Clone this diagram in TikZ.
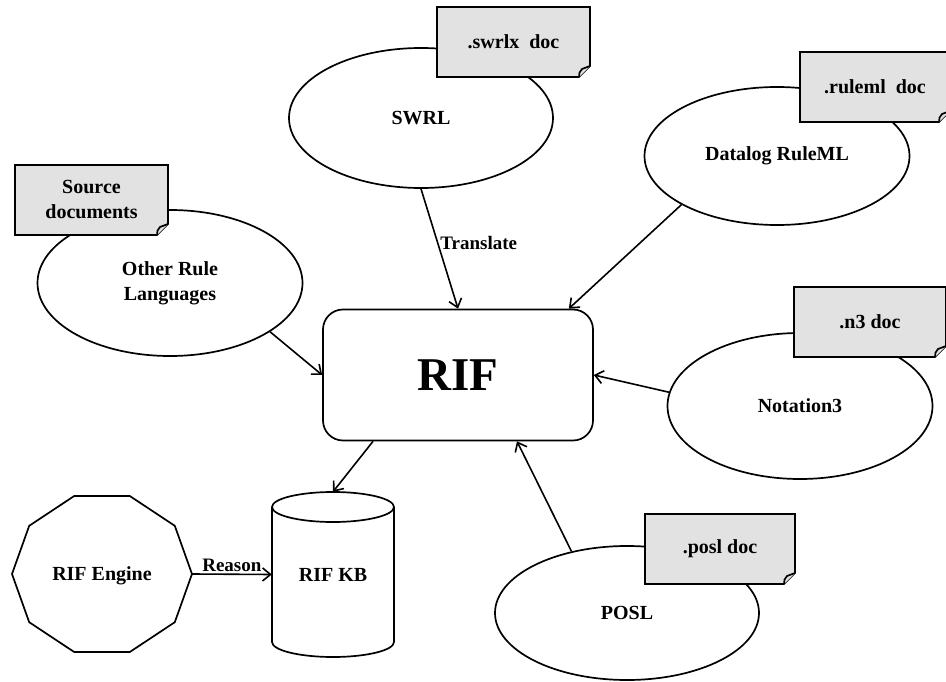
\documentclass[tikz,border=0pt]{standalone}
\usepackage{fontspec}
\setmainfont{Liberation Serif}
\usetikzlibrary{shapes.geometric,arrows.meta,calc}
\definecolor{docgray}{HTML}{E2E2E2}

% folded-corner note: name, x1, y1, x2, y2, text
\newcommand{\docnote}[6]{%
  \draw[docframe] (#2,#3) -- (#4,#3) -- (#4,#5-11) -- (#4-11,#5) -- (#2,#5) -- cycle;
  \draw[docframe] (#4-11,#5) to[bend left=25] (#4-8,#5-8) -- (#4,#5-11);
  \node[doctext] (#1) at ({(#2+#4)/2},{(#3+#5)/2}) {#6};
}

\tikzset{
  every node/.style={font=\fontsize{20}{25}\selectfont\bfseries},
  shapeline/.style={draw, line width=1.7pt, line join=round},
  lang/.style={ellipse, draw, line width=1.7pt, inner sep=0pt, align=center},
  docframe/.style={draw, line width=1.7pt, fill=docgray, line join=miter},
  doctext/.style={align=center, inner sep=0pt},
  arr/.style={line width=1.6pt, -{Straight Barb[length=8pt,width=13pt]}},
  edgelabel/.style={font=\fontsize{19}{21}\selectfont\bfseries, inner sep=2pt}
}

\begin{document}
\begin{tikzpicture}[x=1pt,y=-1pt]
\fill[white] (0,0) rectangle (946,682);
\useasboundingbox (0,0) rectangle (946,682);

% rule languages
\node[lang, minimum width=264pt, minimum height=140pt] (swrl) at (421,118) {SWRL};
\node[lang, minimum width=265pt, minimum height=138pt] (datalog) at (777,156) {Datalog RuleML};
\node[lang, minimum width=265pt, minimum height=146pt] (other) at (170,283) {Other Rule\\Languages};
\node[lang, minimum width=265pt, minimum height=146pt] (n3) at (800,406) {Notation3};
\node[lang, minimum width=264pt, minimum height=134pt] (posl) at (627,613) {POSL};

% source documents
\docnote{swrlxdoc}{437}{7}{590}{77}{.swrlx\ \ doc}
\docnote{rulemldoc}{800}{52}{950}{122}{.ruleml\ \ doc}
\docnote{sourcedoc}{15}{165}{168}{235}{Source\\documents}
\docnote{ntdoc}{794}{287}{946}{357}{.n3 doc}
\docnote{posldoc}{645}{514}{795}{584}{.posl doc}

% interchange format
\node[draw, line width=1.7pt, rounded corners=20pt, minimum width=270pt,
      minimum height=131pt, font=\fontsize{47}{47}\selectfont\bfseries] (rif) at (458,375) {RIF};

% knowledge base cylinder
\draw[shapeline] (272,507) -- (272,642) arc[start angle=180,end angle=360,x radius=61pt,y radius=15pt] -- (394,507);
\draw[shapeline] (333,507) ellipse [x radius=61pt, y radius=15pt];
\node[minimum width=122pt, minimum height=165pt, inner sep=0pt] (rifkb) at (333,574.5) {\raisebox{-8pt}{RIF KB}};

% engine decagon
\draw[shapeline] (192,574) -- (174.8,525.8) -- (129.8,496) -- (74.2,496) -- (29.2,525.8) -- (12,574)
  -- (29.2,622.2) -- (74.2,652) -- (129.8,652) -- (174.8,622.2) -- cycle;
\node (engine) at (102,576) {RIF Engine};
\coordinate (engine-east) at (192,574);

% connectors
\draw[arr] (swrl.south) -- (rif.north) node[edgelabel, pos=0.45, anchor=west] {Translate};
\draw[arr] (datalog.207) -- ([xshift=-25pt]rif.north east);
\draw[arr] (other.334) -- (rif.west);
\draw[arr] (n3.174) -- (rif.east);
\draw[arr] (posl.132) -- ([xshift=59pt]rif.south);
\draw[arr] ([xshift=-85pt]rif.south) -- (rifkb.north);
\draw[arr] (engine-east) -- (rifkb.west) node[edgelabel, midway, above] {Reason};
\end{tikzpicture}
\end{document}
